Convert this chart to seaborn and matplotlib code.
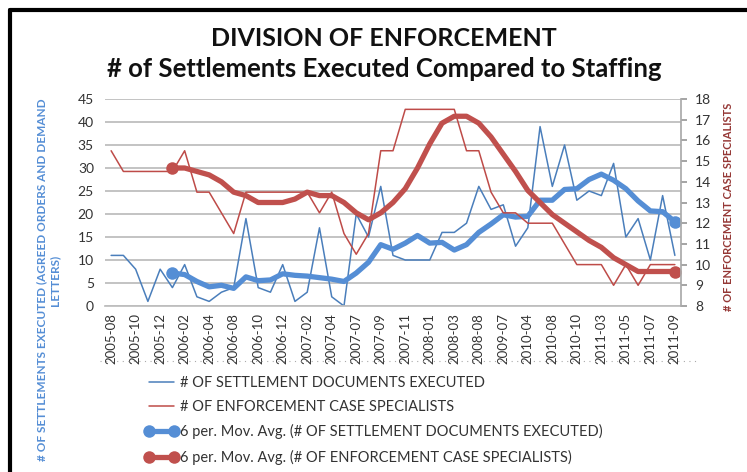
import matplotlib
matplotlib.use("Agg")
import numpy as np
import pandas as pd
import matplotlib.pyplot as plt
import seaborn as sns
from matplotlib.lines import Line2D

sns.set_theme(style="white")
plt.rcParams['font.family'] = ['Lato', 'DejaVu Sans']

# ---------------- DATA ----------------
periods = ["2005-08", "2005-09", "2005-10", "2005-11", "2005-12", "2006-01", "2006-02", "2006-03",
           "2006-04", "2006-06", "2006-08", "2006-09", "2006-10", "2006-11", "2006-12", "2007-01",
           "2007-02", "2007-03", "2007-04", "2007-06", "2007-07", "2007-08", "2007-09", "2007-10",
           "2007-11", "2007-12", "2008-01", "2008-02", "2008-03", "2008-05", "2008-08", "2009-01",
           "2009-07", "2009-11", "2010-04", "2010-06", "2010-08", "2010-09", "2010-10", "2011-01",
           "2011-03", "2011-04", "2011-05", "2011-06", "2011-07", "2011-08", "2011-09"]
settlements = [11, 11, 8, 1, 8, 4, 9, 2, 1, 3, 4, 19, 4, 3, 9, 1, 3, 17, 2, 0,
               20, 15, 26, 11, 10, 10, 10, 16, 16, 18, 26, 21, 22, 13, 17, 39, 26, 35, 23, 25,
               24, 31, 15, 19, 10, 24, 11]
specialists = [15.5, 14.5, 14.5, 14.5, 14.5, 14.5, 15.5, 13.5, 13.5, 12.5,
               11.5, 13.5, 13.5, 13.5, 13.5, 13.5, 13.5, 12.5, 13.5, 11.5,
               10.5, 11.5, 15.5, 15.5, 17.5, 17.5, 17.5, 17.5, 17.5, 15.5,
               15.5, 13.5, 12.5, 12.5, 12, 12, 12, 11, 10, 10,
               10, 9, 10, 9, 10, 10, 10]

df = pd.DataFrame({"period": periods, "settlements": settlements, "specialists": specialists})
df["idx"] = np.arange(len(df))
df["settle_ma"] = df["settlements"].rolling(6).mean()
df["spec_ma"] = df["specialists"].rolling(6).mean()

BLUE = "#4A7EBB"
RED = "#BE4B48"
BLUE_MA = "#558ED5"
RED_MA = "#C0504D"

W, H = 747, 472
fig = plt.figure(figsize=(W / 100, H / 100), dpi=100)
ax = fig.add_axes([105 / W, 1 - 306 / H, (681 - 105) / W, (306 - 99) / H])
ax2 = ax.twinx()

# ---------------- LEFT AXIS ----------------
sns.lineplot(data=df, x="idx", y="settlements", ax=ax, color=BLUE, lw=1.1)
ma = df.dropna(subset=["settle_ma"])
sns.lineplot(data=ma, x="idx", y="settle_ma", ax=ax, color=BLUE_MA, lw=3.8,
             marker="o", markersize=9, markeredgewidth=0, markevery=[0, len(ma) - 1])

ax.set_xlim(-0.5, len(df) - 0.5)
ax.set_ylim(0, 45)
ax.set_yticks(range(0, 46, 5))
ax.set_xticks(df["idx"][::2])
ax.set_xticklabels(df["period"][::2], rotation=90, fontsize=9.5, color="#333333")
ax.tick_params(axis="y", labelsize=10, colors="#333333", length=0, pad=8)
ax.tick_params(axis="x", length=0, pad=5)
ax.grid(axis="y", color="#BEBEBE", lw=1.3)
ax.grid(axis="x", visible=False)
ax.set_xlabel("")
ax.set_ylabel("")
for s in ["top", "left", "right"]:
    ax.spines[s].set_visible(False)
ax.spines["bottom"].set_color("#BEBEBE")

# ---------------- RIGHT AXIS ----------------
sns.lineplot(data=df, x="idx", y="specialists", ax=ax2, color=RED, lw=1.1)
ma2 = df.dropna(subset=["spec_ma"])
sns.lineplot(data=ma2, x="idx", y="spec_ma", ax=ax2, color=RED_MA, lw=3.8,
             marker="o", markersize=9, markeredgewidth=0, markevery=[0, len(ma2) - 1])
ax2.set_ylim(8, 18)
ax2.set_yticks(range(8, 19))
ax2.tick_params(axis="y", labelsize=10, colors="#333333", length=4, pad=6)
ax2.tick_params(axis="y", color="#999999")
ax2.set_ylabel("")
for s in ["top", "left", "bottom"]:
    ax2.spines[s].set_visible(False)
ax2.spines["right"].set_color("#AAAAAA")
ax2.grid(False)

# ---------------- TEXT ----------------
fig.text(384 / W, 1 - 38 / H, "DIVISION OF ENFORCEMENT", ha="center", va="center",
         fontsize=18, fontweight="bold", color="#111111")
fig.text(384 / W, 1 - 69 / H, "# of Settlements Executed Compared to Staffing", ha="center",
         va="center", fontsize=18.5, fontweight="bold", color="#111111")
fig.text(48 / W, 1 - 280 / H, "# OF SETTLEMENTS EXECUTED (AGREED ORDERS AND DEMAND\nLETTERS)",
         rotation=90, ha="center", va="center", multialignment="center",
         fontsize=8.5, fontweight="bold", color="#558ED5", linespacing=1.2)
fig.text(729 / W, 1 - 207 / H, "# OF ENFORCEMENT CASE SPECIALISTS", rotation=90,
         ha="center", va="center", fontsize=8, fontweight="bold", color="#953735")

# ---------------- LEGEND ----------------
handles = [
    Line2D([], [], color=BLUE, lw=1.1),
    Line2D([], [], color=RED, lw=1.1),
    Line2D([], [], color=BLUE_MA, lw=3.8, marker="o", markersize=9, markeredgewidth=0),
    Line2D([], [], color=RED_MA, lw=3.8, marker="o", markersize=9, markeredgewidth=0),
]
labels = ["# OF SETTLEMENT DOCUMENTS EXECUTED",
          "# OF ENFORCEMENT CASE SPECIALISTS",
          "6 per. Mov. Avg. (# OF SETTLEMENT DOCUMENTS EXECUTED)",
          "6 per. Mov. Avg. (# OF ENFORCEMENT CASE SPECIALISTS)"]
fig.legend(handles, labels, loc="upper left", bbox_to_anchor=(145 / W, 1 - 376 / H),
           frameon=False, fontsize=10.5, numpoints=2, handlelength=2.3, handletextpad=0.1,
           labelspacing=0.7, borderaxespad=0, borderpad=0, labelcolor="#333333")

# dotted border above legend and black frame edges
fig.add_artist(Line2D([100 / W, 700 / W], [1 - 361 / H, 1 - 361 / H], color="#AAAAAA",
                      lw=0.8, ls=(0, (1, 4))))
fig.add_artist(Line2D([10 / W, 1], [1 - 10 / H, 1 - 10 / H], color="black", lw=3))
fig.add_artist(Line2D([10 / W, 10 / W], [0, 1 - 10 / H], color="black", lw=3))

fig.savefig("out.png", dpi=100)
